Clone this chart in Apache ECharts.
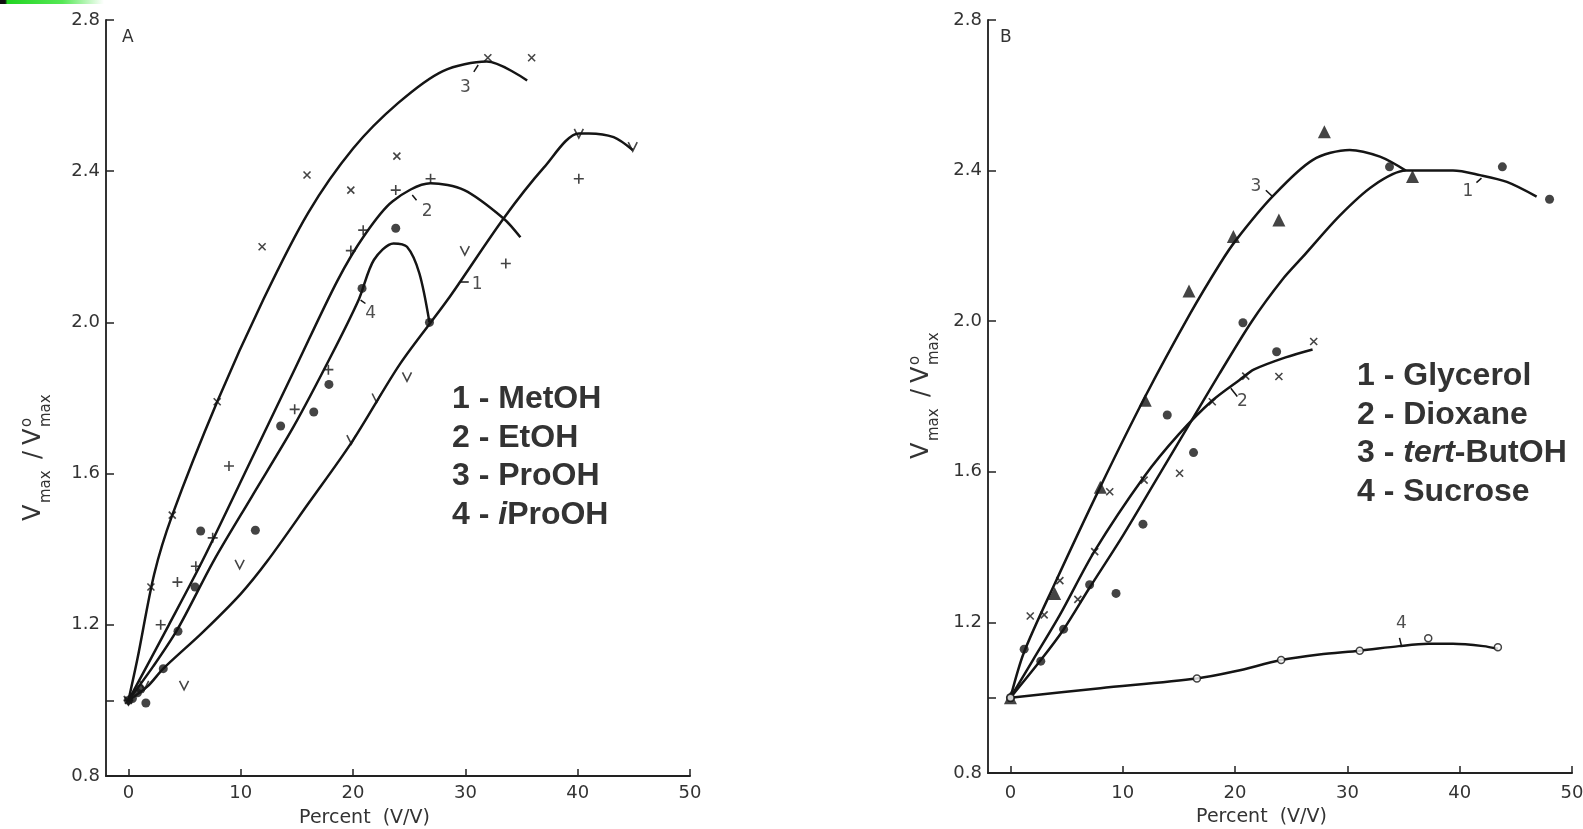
<!DOCTYPE html>
<html>
<head>
<meta charset="utf-8">
<script src="https://cdn.jsdelivr.net/npm/echarts@6/dist/echarts.min.js"></script>
<style>
html, body { margin: 0; padding: 0; background: #fff; }
#container { width: 1583px; height: 829px; }
</style>
</head>
<body>
<div id="container"></div>
<script>
let chart = echarts.init(document.getElementById('container'));

var xTicks = [0, 10, 20, 30, 40, 50];
var yTicks = [0.8, 1.0, 1.2, 1.6, 2.0, 2.4, 2.8];
var yLabels = [0.8, 1.2, 1.6, 2.0, 2.4, 2.8];

// ---- panel A (alcohols) ----
var metohPoints = [[0, 1.0], [1.4, 1.04], [4.95, 1.04], [9.9, 1.36], [19.85, 1.69], [22.1, 1.80], [24.8, 1.856], [29.95, 2.19], [40.1, 2.50], [44.9, 2.465]];
var metohCurve = [[0, 1.0], [1.7, 1.037], [3.1, 1.084], [6.6, 1.18], [10, 1.282], [12.4, 1.37], [16, 1.52], [19.9, 1.684], [24.2, 1.891], [28.4, 2.059], [33.4, 2.275], [37, 2.41], [40.1, 2.50], [41, 2.50], [43.2, 2.49], [44.9, 2.456]];

var etohPoints = [[0, 1.0], [2.87, 1.20], [4.36, 1.313], [6.0, 1.355], [7.5, 1.43], [8.95, 1.62], [14.8, 1.77], [17.8, 1.875], [19.8, 2.19], [20.9, 2.244], [23.8, 2.35], [26.9, 2.38], [33.6, 2.156], [40.1, 2.38]];
var etohCurve = [[0, 1.0], [3.6, 1.2], [6.6, 1.37], [11.05, 1.644], [14.9, 1.882], [18.6, 2.11], [21, 2.23], [23.5, 2.32], [26.9, 2.368], [29.9, 2.35], [33.4, 2.275], [34.9, 2.225]];

var prohPoints = [[0, 1.0], [2.0, 1.30], [3.9, 1.49], [7.9, 1.79], [11.9, 2.20], [15.9, 2.39], [19.8, 2.35], [23.9, 2.44], [32.0, 2.70], [35.9, 2.70]];
var prohCurve = [[0, 1.0], [0.8, 1.11], [2.3, 1.335], [3.9, 1.49], [7.9, 1.79], [12, 2.06], [16, 2.29], [20, 2.46], [24, 2.58], [28, 2.665], [31.9, 2.69], [35.5, 2.64]];

var iprohPoints = [[0, 1.0], [0.35, 1.005], [0.8, 1.02], [1.1, 1.03], [1.55, 0.993], [3.1, 1.084], [4.41, 1.183], [5.93, 1.30], [6.43, 1.448], [11.3, 1.45], [13.55, 1.726], [16.5, 1.763], [17.85, 1.836], [20.8, 2.09], [23.8, 2.249], [26.8, 2.0]];
var iprohCurve = [[0, 1.0], [2.2, 1.09], [4.4, 1.19], [7.6, 1.37], [11, 1.54], [14.7, 1.724], [18.0, 1.909], [20.5, 2.06], [21.85, 2.165], [23.6, 2.209], [24.8, 2.2], [25.9, 2.13], [26.8, 2.0]];

var labelsA = [[30.0, 2.62, '3'], [26.6, 2.294, '2'], [31.05, 2.099, '1'], [21.56, 2.024, '4']];
var leadersA = [[[30.75, 2.663], [31.14, 2.681]], [[25.27, 2.337], [25.65, 2.323]], [[29.56, 2.107], [30.3, 2.107]], [[20.67, 2.059], [21.1, 2.05]]];
var legendA = ['1 - MetOH', '2 - EtOH', '3 - ProOH', '4 - {i|i}ProOH'];

// ---- panel B ----
var glycerolPoints = [[0, 1.0], [1.22, 1.129], [2.7, 1.097], [4.73, 1.182], [7.05, 1.30], [9.4, 1.277], [11.8, 1.461], [13.96, 1.751], [16.3, 1.651], [20.7, 1.996], [23.7, 1.919], [33.75, 2.41], [43.8, 2.41], [48.0, 2.324]];
var glycerolCurve = [[0, 1.0], [2.7, 1.10], [4.7, 1.18], [7.0, 1.29], [10, 1.43], [13, 1.58], [16, 1.73], [18.6, 1.86], [21.5, 2.0], [24.2, 2.11], [26.0, 2.17], [29.3, 2.28], [32.3, 2.36], [35.2, 2.40], [39.4, 2.40], [41.8, 2.388], [44.2, 2.37], [46.85, 2.331]];

var dioxanePoints = [[1.76, 1.217], [3.0, 1.22], [4.4, 1.311], [6.0, 1.261], [7.5, 1.388], [8.84, 1.547], [11.9, 1.578], [15.06, 1.596], [17.97, 1.786], [20.95, 1.854], [23.9, 1.853], [27.0, 1.946]];
var dioxaneCurve = [[0, 1.0], [2, 1.1], [4.4, 1.22], [7.5, 1.39], [11.9, 1.587], [15, 1.70], [18, 1.79], [20.4, 1.844], [21.7, 1.872], [24.5, 1.904], [26.9, 1.925]];

var butohPoints = [[0, 1.0], [3.93, 1.277], [8.0, 1.559], [12.0, 1.79], [15.9, 2.08], [19.85, 2.225], [23.9, 2.269], [27.95, 2.503], [35.8, 2.384]];
var butohCurve = [[0, 1.0], [1.2, 1.12], [3.9, 1.30], [8, 1.56], [12, 1.80], [16, 2.02], [18.6, 2.15], [20.1, 2.216], [23.3, 2.33], [26.9, 2.428], [30.2, 2.455], [32.9, 2.437], [35.2, 2.40]];

var sucrosePoints = [[0, 1.0], [16.6, 1.051], [24.1, 1.10], [31.1, 1.125], [37.2, 1.158], [43.4, 1.134]];
var sucroseCurve = [[0, 1.0], [8, 1.025], [16.6, 1.051], [20, 1.07], [24.1, 1.10], [27.5, 1.115], [31.1, 1.125], [34.6, 1.137], [37.2, 1.143], [39.4, 1.143], [42.1, 1.137], [43.4, 1.13]];

var labelsB = [[40.74, 2.344, '1'], [21.85, 2.357, '3'], [20.65, 1.786, '2'], [34.8, 1.198, '4']];
var leadersB = [[[41.49, 2.368], [41.94, 2.38]], [[22.74, 2.348], [23.33, 2.331]], [[19.62, 1.822], [20.2, 1.80]], [[34.64, 1.159], [34.8, 1.14]]];
var legendB = ['1 - Glycerol', '2 - Dioxane', '3 - {i|tert}-ButOH', '4 - Sucrose'];

var symX = 'path://M0,0L10,10M10,0L0,10';
var symPlus = 'path://M5,0L5,10M0,5L10,5';
var symV = 'path://M0,0L5,10L10,0';
var ink = '#151515';

function curve(data, gi) {
    return {
        type: 'line', xAxisIndex: gi, yAxisIndex: gi, data: data,
        smooth: 0.3, symbol: 'none', silent: true, z: 3,
        lineStyle: { color: ink, width: 2.5 },
    };
}

function points(data, gi, symbol, size, style) {
    return {
        type: 'scatter', xAxisIndex: gi, yAxisIndex: gi, data: data,
        symbol: symbol, symbolSize: size, z: 5, silent: true,
        itemStyle: style,
    };
}
var stroke = { color: 'none', borderColor: ink, borderWidth: 1.6 };
var solid = { color: ink };
var hollow = { color: '#fff', borderColor: ink, borderWidth: 1.5 };

function curveLabels(list, leaders, gi) {
    return [{
        type: 'scatter', xAxisIndex: gi, yAxisIndex: gi, symbolSize: 0, silent: true, z: 6,
        data: list.map(l => ({ value: [l[0], l[1]], name: l[2] })),
        label: { show: true, position: 'inside', formatter: '{b}', fontFamily: 'DejaVu Sans', fontSize: 17, color: '#222' },
    }, {
        type: 'lines', coordinateSystem: 'cartesian2d', xAxisIndex: gi, yAxisIndex: gi, silent: true, z: 6,
        data: leaders.map(c => ({ coords: c })),
        lineStyle: { color: ink, width: 1.5, opacity: 1 },
    }];
}

function xAxis(gi, pad, margin, gap) {
    return {
        type: 'value', gridIndex: gi, min: -2, max: 50,
        name: 'Percent  (V/V)', nameLocation: 'middle', nameGap: gap,
        nameTextStyle: { fontFamily: 'DejaVu Sans', fontSize: 19, color: '#333', padding: [0, pad, 0, 0] },
        axisLine: { onZero: false, lineStyle: { color: '#222', width: 2 } },
        axisTick: { inside: true, length: 7, customValues: xTicks, lineStyle: { color: '#222', width: 1.5 } },
        axisLabel: { customValues: xTicks, margin: margin, fontFamily: 'DejaVu Sans', fontSize: 18, color: '#333' },
        splitLine: { show: false },
    };
}

function yAxis(gi) {
    return {
        type: 'value', gridIndex: gi, min: 0.8, max: 2.8,
        axisLine: { onZero: false, lineStyle: { color: '#333', width: 2 } },
        axisTick: { inside: true, length: 8, customValues: yTicks, lineStyle: { color: '#222', width: 1.5 } },
        axisLabel: { customValues: yLabels, margin: 6, fontFamily: 'DejaVu Sans', fontSize: 18, color: '#333',
            formatter: v => v.toFixed(1) },
        splitLine: { show: false },
    };
}

function txt(x, y, s, size) {
    return { type: 'text', x: x, y: y, style: { text: s, font: size + 'px "DejaVu Sans"', fill: '#333', textAlign: 'left', textVerticalAlign: 'bottom' } };
}

function yName(gx, gy) {
    return {
        type: 'group', x: gx, y: gy, rotation: Math.PI / 2,
        children: [txt(0, 0, 'V', 24), txt(18, 8, 'max', 15), txt(62, 0, '/', 24),
            txt(76, 0, 'V', 24), txt(94, -11, 'o', 15), txt(94, 8, 'max', 15)],
    };
}

function legend(list, left, top) {
    return list.map((s, i) => ({
        type: 'text', x: left, y: top + i * 38.8,
        style: {
            text: s, font: 'bold 32px "Liberation Sans"', fill: '#333', textVerticalAlign: 'middle',
            rich: { i: { fontStyle: 'italic', fontWeight: 'bold', fontSize: 32, fontFamily: 'Liberation Sans', fill: '#333' } },
        },
    }));
}

let option = {
    animation: false,
    backgroundColor: '#fff',
    grid: [
        { left: 106, top: 20, width: 584, height: 756, containLabel: false, outerBoundsMode: 'none' },
        { left: 988, top: 20, width: 584, height: 753, containLabel: false, outerBoundsMode: 'none' },
    ],
    xAxis: [xAxis(0, 67, 8, 33), xAxis(1, 37, 11, 35)],
    yAxis: [yAxis(0), yAxis(1)],
    series: [
        curve(metohCurve, 0), curve(etohCurve, 0), curve(prohCurve, 0), curve(iprohCurve, 0),
        points(metohPoints, 0, symV, 9, stroke),
        points(etohPoints, 0, symPlus, 10, stroke),
        points(prohPoints, 0, symX, 7, stroke),
        points(iprohPoints, 0, 'circle', 9, solid),
        ...curveLabels(labelsA, leadersA, 0),
        curve(glycerolCurve, 1), curve(dioxaneCurve, 1), curve(butohCurve, 1), curve(sucroseCurve, 1),
        points(glycerolPoints, 1, 'circle', 9, solid),
        points(dioxanePoints, 1, symX, 7, stroke),
        points(butohPoints, 1, 'triangle', 13, solid),
        points(sucrosePoints, 1, 'circle', 7, hollow),
        ...curveLabels(labelsB, leadersB, 1),
    ],
    graphic: [
        {
            type: 'rect', shape: { x: 0, y: 0, width: 104, height: 4 },
            style: { fill: new echarts.graphic.LinearGradient(0, 0, 1, 0, [
                { offset: 0, color: '#111' }, { offset: 0.05, color: '#111' },
                { offset: 0.07, color: '#22d422' }, { offset: 0.6, color: '#55e855' }, { offset: 1, color: '#ffffff' }]) },
        },
        { type: 'text', x: 122, y: 38, style: { text: 'A', font: '17px "DejaVu Sans"', fill: '#333', textVerticalAlign: 'middle' } },
        { type: 'text', x: 1000, y: 38, style: { text: 'B', font: '17px "DejaVu Sans"', fill: '#333', textVerticalAlign: 'middle' } },
        yName(46, 521),
        yName(934, 459),
        ...legend(legendA, 452, 399),
        ...legend(legendB, 1357, 376),
    ],
};

chart.setOption(option);
</script>
</body>
</html>
